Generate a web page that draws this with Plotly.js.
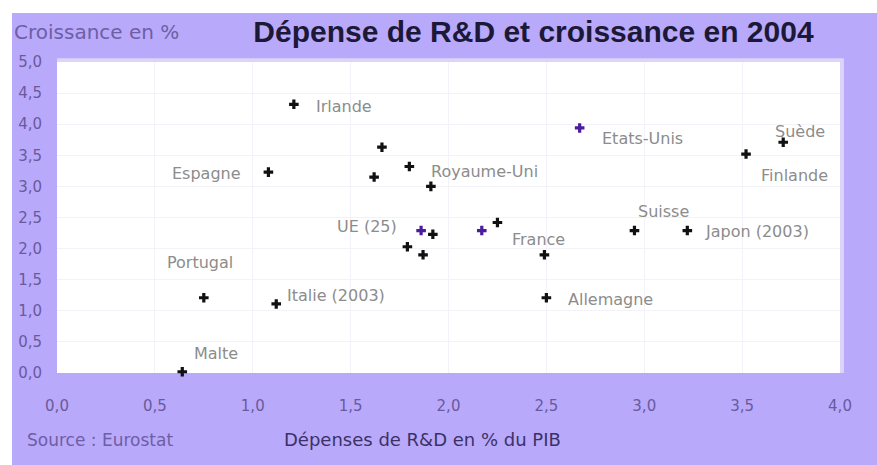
<!DOCTYPE html>
<html>
<head>
<meta charset="utf-8">
<script src="https://cdn.plot.ly/plotly-3.0.1.min.js"></script>
<style>
  html, body { margin: 0; padding: 0; background: #ffffff; }
  #chart { position: absolute; left: 12px; top: 13px; width: 865px; height: 452px; }
</style>
</head>
<body>
<div id="chart"></div>
<script>
// ---- Data ----
// Black markers
const blackNames = ['Irlande', '', 'Espagne', 'Royaume-Uni', '', '', 'Finlande', 'Suède', '', '', '', 'France', '', 'Suisse', 'Japon (2003)', 'Allemagne', 'Portugal', 'Italie (2003)', 'Malte'];
const blackRD     = [1.21, 1.66, 1.08, 1.80, 1.62, 1.91, 3.52, 3.71, 1.92, 1.79, 1.87, 2.25, 2.49, 2.95, 3.22, 2.50, 0.75, 1.12, 0.64];
const blackGrowth = [4.32, 3.63, 3.23, 3.32, 3.15, 3.00, 3.52, 3.71, 2.23, 2.03, 1.90, 2.42, 1.90, 2.29, 2.29, 1.21, 1.21, 1.11, 0.02];
// Purple markers
const purpleNames  = ['UE (25)', 'Etats-Unis', ''];
const purpleRD     = [1.86, 2.67, 2.17];
const purpleGrowth = [2.29, 3.94, 2.29];
// Axis ticks
const xTicks = [0, 0.5, 1, 1.5, 2, 2.5, 3, 3.5, 4];
const yTicks = [0, 0.5, 1, 1.5, 2, 2.5, 3, 3.5, 4, 4.5, 5];

// ---- Label placement (style, pixels) ----
const labelStyle = {
  'Irlande':       {dx: 20,  dy: -2,  anchor: 'left'},
  'Espagne':       {dx: -25, dy: -1,  anchor: 'right'},
  'Royaume-Uni':   {dx: 20,  dy: -5,  anchor: 'left'},
  'Etats-Unis':    {dx: 20,  dy: -11, anchor: 'left'},
  'Suède':         {dx: 17,  dy: 11,  anchor: 'center'},
  'Finlande':      {dx: 48,  dy: -21, anchor: 'center'},
  'UE (25)':       {dx: -22, dy: 4,   anchor: 'right'},
  'France':        {dx: 13,  dy: -17, anchor: 'left'},
  'Suisse':        {dx: 29,  dy: 19,  anchor: 'center'},
  'Japon (2003)':  {dx: 16,  dy: -1,  anchor: 'left'},
  'Allemagne':     {dx: 20,  dy: -2,  anchor: 'left'},
  'Portugal':      {dx: -4,  dy: 35,  anchor: 'center'},
  'Italie (2003)': {dx: 9,   dy: 8,   anchor: 'left'},
  'Malte':         {dx: 10,  dy: 18,  anchor: 'left'}
};

const PURPLE_BG = '#b9a9fb';
const labelFont = {family: 'DejaVu Sans', size: 16, color: '#8c8c8c'};

function makeLabels(names, xs, ys) {
  const out = [];
  names.forEach((n, i) => {
    if (!n) return;
    const s = labelStyle[n];
    out.push({
      x: xs[i], y: ys[i], xref: 'x', yref: 'y', text: n, showarrow: false,
      xanchor: s.anchor, yanchor: 'middle', xshift: s.dx, yshift: s.dy,
      font: labelFont
    });
  });
  return out;
}

const traces = [
  {
    type: 'scatter', mode: 'markers', x: blackRD, y: blackGrowth, text: blackNames,
    marker: {symbol: 'cross', size: 8, color: '#111111'}, cliponaxis: false, hoverinfo: 'text+x+y'
  },
  {
    type: 'scatter', mode: 'markers', x: purpleRD, y: purpleGrowth, text: purpleNames,
    marker: {symbol: 'cross', size: 8, color: '#4b1c9e'}, cliponaxis: false, hoverinfo: 'text+x+y'
  }
];

const annotations = makeLabels(blackNames, blackRD, blackGrowth)
  .concat(makeLabels(purpleNames, purpleRD, purpleGrowth))
  .concat([
    {xref: 'paper', yref: 'paper', x: -0.0575, y: 1.096, xanchor: 'left', yanchor: 'middle',
     text: 'Croissance en %', showarrow: false, font: {family: 'DejaVu Sans', size: 20, color: '#6e5ea4'}},
    {xref: 'paper', yref: 'paper', x: -0.041, y: -0.215, xanchor: 'left', yanchor: 'middle',
     text: 'Source : Eurostat', showarrow: false, font: {family: 'DejaVu Sans', size: 17, color: '#6e5ea4'}},
    {xref: 'paper', yref: 'paper', x: 0.287, y: -0.215, xanchor: 'left', yanchor: 'middle',
     text: 'Dépenses de R&D en % du PIB', showarrow: false, font: {family: 'DejaVu Sans', size: 18, color: '#3b3166'}}
  ]);

const layout = {
  width: 865, height: 452,
  margin: {l: 45, r: 37, t: 49, b: 92, pad: 0},
  paper_bgcolor: PURPLE_BG,
  plot_bgcolor: '#ffffff',
  separators: ',.',
  showlegend: false,
  title: {
    text: 'Dépense de R&D et croissance en 2004',
    x: 0.279, xref: 'container', xanchor: 'left',
    y: 0.958, yref: 'container', yanchor: 'middle',
    font: {family: 'Liberation Sans', size: 30, weight: 'bold', color: '#1c1838'}
  },
  xaxis: {
    range: [0, 4], tickvals: xTicks, tickformat: '.1f',
    showgrid: true, gridcolor: '#f3f2f8', zeroline: false, showline: false, ticks: '',
    ticklabelstandoff: 22,
    tickfont: {family: 'DejaVu Sans', size: 15, color: '#6a5a9c'}
  },
  yaxis: {
    range: [0, 5], tickvals: yTicks, tickformat: '.1f',
    showgrid: true, gridcolor: '#f3f2f8', zeroline: false, showline: false, ticks: '',
    ticklabelstandoff: 14,
    tickfont: {family: 'DejaVu Sans', size: 15, color: '#6a5a9c'}
  },
  shapes: [
    {type: 'rect', xref: 'paper', yref: 'paper', x0: 0, x1: 1.005, y0: 1, y1: 1.012,
     fillcolor: '#ddd4fb', line: {width: 0}, layer: 'below'},
    {type: 'rect', xref: 'paper', yref: 'paper', x0: 1, x1: 1.005, y0: 0, y1: 1,
     fillcolor: '#ddd4fb', line: {width: 0}, layer: 'below'}
  ],
  annotations: annotations
};

Plotly.newPlot('chart', traces, layout, {displayModeBar: false, responsive: false});
</script>
</body>
</html>
